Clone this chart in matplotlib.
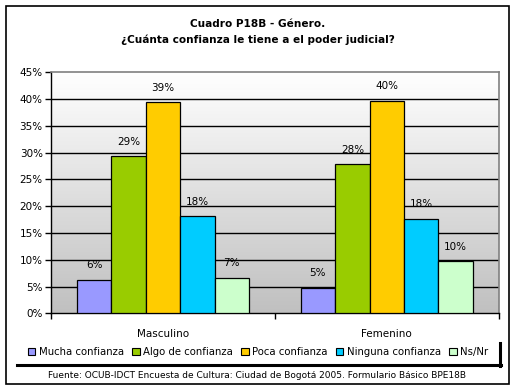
import matplotlib
matplotlib.use("Agg")
import matplotlib.pyplot as plt
import numpy as np
from matplotlib.patches import Rectangle
from matplotlib.lines import Line2D

categories = ["Masculino", "Femenino"]
series_names = ["Mucha confianza", "Algo de confianza", "Poca confianza",
                "Ninguna confianza", "Ns/Nr"]
values = {
    "Mucha confianza":   [6.2, 4.8],
    "Algo de confianza": [29.3, 27.8],
    "Poca confianza":    [39.4, 39.6],
    "Ninguna confianza": [18.1, 17.7],
    "Ns/Nr":             [6.6, 9.7],
}
colors = ["#9999FF", "#99CC00", "#FFCC00", "#00CCFF", "#CCFFCC"]
yticks = [0, 5, 10, 15, 20, 25, 30, 35, 40, 45]
title = "Cuadro P18B - Género.\n¿Cuánta confianza le tiene a el poder judicial?"
source = "Fuente: OCUB-IDCT Encuesta de Cultura: Ciudad de Bogotá 2005. Formulario Básico BPE18B"

plt.rcParams['font.family'] = ['DejaVu Sans']
W, H = 515, 391
fig = plt.figure(figsize=(W/100, H/100), dpi=100)
fig.patch.set_facecolor("white")

# outer frame
fig.add_artist(Rectangle((5.5/W, 1 - 383.5/H), 503/W, 377.5/H, transform=fig.transFigure,
                         fill=False, edgecolor="black", linewidth=1.2))

ax = fig.add_axes([51/W, 1 - 313.3/H, (498.7-51)/W, (313.3-72.3)/H])
ax.set_xlim(0, 2)
ax.set_ylim(0, 45)

# gradient background
grad = np.linspace(1, 0, 256).reshape(-1, 1)
ax.imshow(grad, extent=[0, 2, 0, 45], aspect="auto", cmap=matplotlib.colors.LinearSegmentedColormap.from_list(
    "g", ["#c0c0c0", "#ffffff"]), vmin=0, vmax=1, zorder=0, origin="upper")

for y in yticks[1:-1]:
    ax.axhline(y, color="black", linewidth=1.0, zorder=1)

nser = len(series_names)
gap = 1.5
bw = 1.0 / (nser + gap)
for i, name in enumerate(series_names):
    for c in range(len(categories)):
        x = c + gap * bw / 2 + i * bw
        v = values[name][c]
        ax.bar(x, v, width=bw, align="edge", color=colors[i], edgecolor="black",
               linewidth=0.9, zorder=3, label=name if c == 0 else None)
        ax.annotate(f"{v:.0f}%", (x + bw / 2, v), xytext=(0, 7), textcoords="offset points",
                    ha="center", va="bottom", fontsize=7.5, zorder=4)

for s in ["top", "right"]:
    ax.spines[s].set_color("#808080")
    ax.spines[s].set_linewidth(1.2)
for s in ["left", "bottom"]:
    ax.spines[s].set_color("black")
    ax.spines[s].set_linewidth(1.0)

ax.set_yticks(yticks)
ax.set_yticklabels([f"{t}%" for t in yticks], fontsize=7.5)
ax.tick_params(axis="y", direction="out", length=4, width=1, pad=2)
ax.set_xticks([0, 1, 2])
ax.set_xticklabels([])
ax.tick_params(axis="x", direction="out", length=4, width=1)
ax.set_xticks([0.5, 1.5], minor=True)
ax.set_xticklabels(categories, minor=True, fontsize=7.5)
ax.tick_params(axis="x", which="minor", length=0, pad=11)

fig.text(0.5, 1 - 32/H, title, ha="center", va="center", fontsize=7.6,
         fontweight="bold", linespacing=1.6)

handles = [Rectangle((0, 0), 1, 1, facecolor=colors[i], edgecolor="black", linewidth=0.8)
           for i in range(nser)]
leg = fig.legend(handles, series_names, loc="center", bbox_to_anchor=(258/W, 1 - 352/H),
                 ncol=5, frameon=False, fontsize=7.3, handlelength=0.75, handleheight=0.75,
                 handletextpad=0.35, columnspacing=0.8, borderpad=0.2)

# legend shadow lines
fig.add_artist(Line2D([17/W, 501/W], [1 - 364.5/H, 1 - 364.5/H], transform=fig.transFigure,
                      color="black", linewidth=2.2))
fig.add_artist(Line2D([500/W, 500/W], [1 - 342.5/H, 1 - 365.5/H], transform=fig.transFigure,
                      color="black", linewidth=2.2))

fig.text(0.5, 1 - 376/H, source, ha="center", va="center", fontsize=6.5)

fig.savefig("out.png", dpi=100)
